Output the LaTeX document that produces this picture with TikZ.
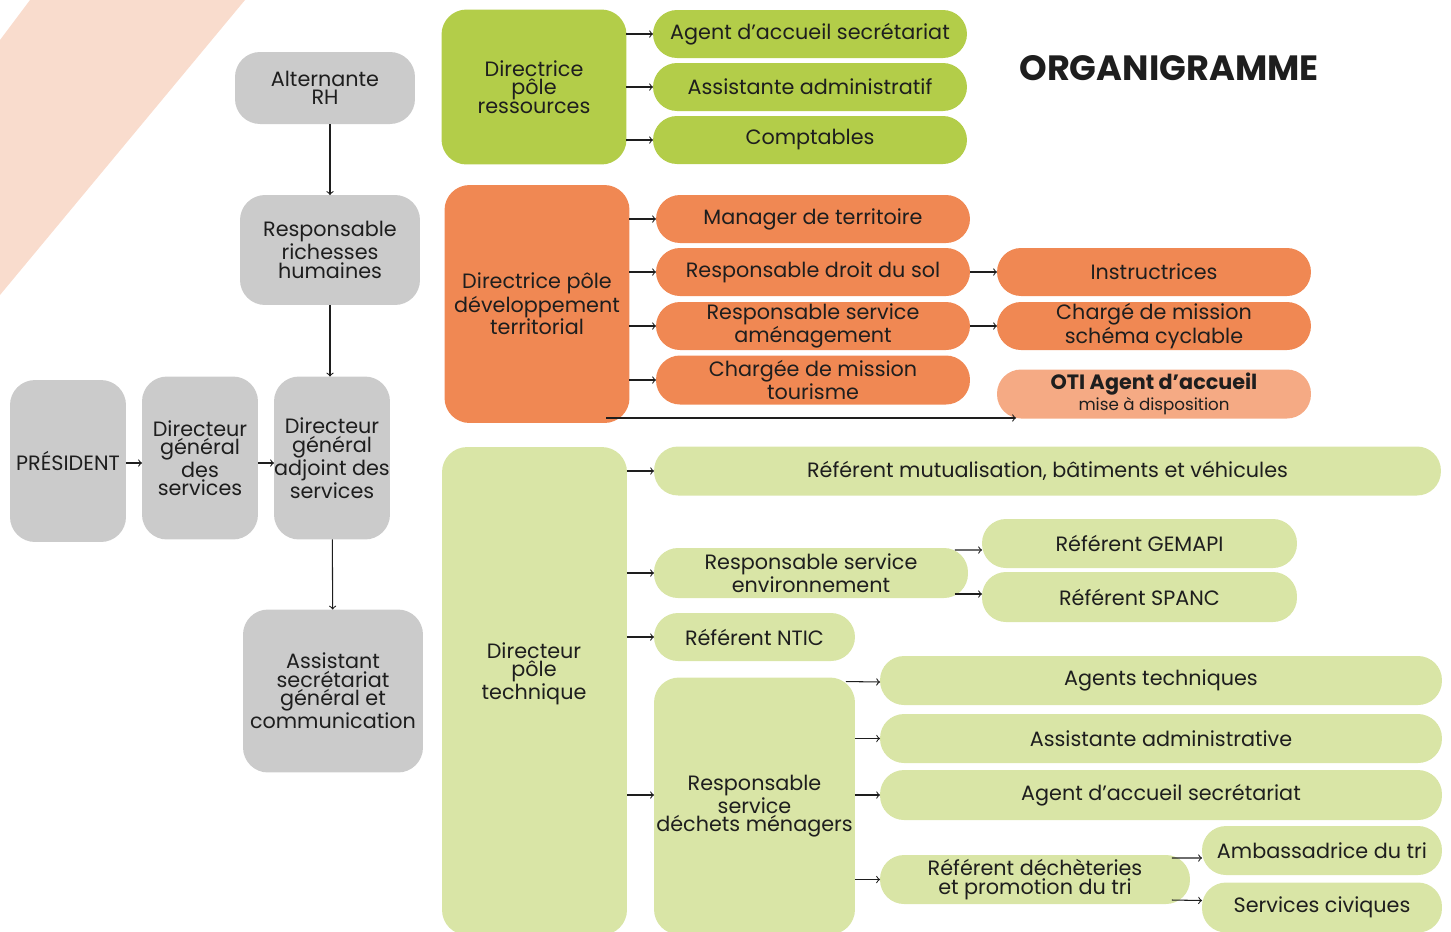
\documentclass[tikz,border=0pt]{standalone}
\usepackage{fontspec}
\setmainfont{Poppins}
\usepackage{tikz}

\definecolor{encre}{HTML}{1E1E1E}
\definecolor{gris}{HTML}{CBCBCB}
\definecolor{vert}{HTML}{B3CD49}
\definecolor{vertclair}{HTML}{D9E5A6}
\definecolor{orange}{HTML}{F08853}
\definecolor{orangeclair}{HTML}{F5AA84}
\definecolor{peche}{HTML}{F9DCCD}

\begin{document}
\begin{tikzpicture}[x=0.02cm, y=-0.02cm,
  every node/.style={align=center, inner sep=0pt, outer sep=0pt, text=encre, font=\fontsize{11.8}{10.5}\selectfont},
  boite/.style={rounded corners=0.5cm},
  pilule/.style={rounded corners=0.48cm},
  lien/.style={->, semithick, encre}]
\useasboundingbox (0,0) rectangle (1451,931);
\fill[peche] (0,40) -- (30,0) -- (245,0) -- (0,295) -- cycle;

\node[font=\fontsize{20}{20}\selectfont\bfseries] (titre) at (1169,68) {ORGANIGRAMME};

\node[boite, fill=gris, minimum width=3.6cm, minimum height=1.44cm] (alt) at (325,88) {Alternante\\RH};
\node[boite, fill=gris, minimum width=3.6cm, minimum height=2.2cm] (rrh) at (330,250) {Responsable\\richesses\\humaines};
\node[boite, fill=gris, minimum width=2.32cm, minimum height=3.24cm] (pres) at (68,461) {PRÉSIDENT};
\node[boite, fill=gris, minimum width=2.32cm, minimum height=3.26cm] (dgs) at (200,458) {Directeur\\général\\des\\services};
\node[boite, fill=gris, minimum width=2.32cm, minimum height=3.26cm] (dga) at (332,458) {Directeur\\général\\adjoint des\\services};
\node[boite, fill=gris, minimum width=3.6cm, minimum height=3.26cm] (asg) at (333,691) {Assistant\\secrétariat\\général et\\communication};

\node[boite, fill=vert, minimum width=3.7cm, minimum height=3.1cm] (dpr) at (534,87) {Directrice\\pôle\\ressources};
\node[pilule, fill=vert, minimum width=6.28cm, minimum height=0.96cm] (r1) at (810,34) {Agent d’accueil secrétariat};
\node[pilule, fill=vert, minimum width=6.28cm, minimum height=0.96cm] (r2) at (810,87) {Assistante administratif};
\node[pilule, fill=vert, minimum width=6.28cm, minimum height=0.96cm] (r3) at (810,140) {Comptables};

\node[boite, fill=orange, minimum width=3.7cm, minimum height=4.76cm] (ddt) at (537,304) {Directrice pôle\\développement\\territorial};
\node[pilule, fill=orange, minimum width=6.28cm, minimum height=0.96cm] (d1) at (813,219) {Manager de territoire};
\node[pilule, fill=orange, minimum width=6.28cm, minimum height=0.96cm] (d2) at (813,272) {Responsable droit du sol};
\node[pilule, fill=orange, minimum width=6.28cm, minimum height=0.96cm] (d3) at (813,326) {Responsable service\\aménagement};
\node[pilule, fill=orange, minimum width=6.28cm, minimum height=0.98cm] (d4) at (813,380) {Chargée de mission\\tourisme};
\node[pilule, fill=orange, minimum width=6.28cm, minimum height=0.96cm] (ins) at (1154,272) {Instructrices};
\node[pilule, fill=orange, minimum width=6.28cm, minimum height=0.96cm] (cyc) at (1154,326) {Chargé de mission\\schéma cyclable};
\node[pilule, fill=orangeclair, minimum width=6.28cm, minimum height=0.98cm] (oti) at (1154,394) {\textbf{OTI Agent d’accueil}\\{\fontsize{9.5}{10.5}\selectfont mise à disposition}};

\node[boite, fill=vertclair, minimum width=3.7cm, minimum height=9.76cm] (dpt) at (534.5,691) {};
\node (dpttexte) at (534,674) {Directeur\\pôle\\technique};
\node[pilule, fill=vertclair, minimum width=15.74cm, minimum height=0.98cm] (mut) at (1047.5,471) {Référent mutualisation, bâtiments et véhicules};
\node[pilule, fill=vertclair, minimum width=6.28cm, minimum height=1cm] (env) at (811,573) {Responsable service\\environnement};
\node[pilule, fill=vertclair, minimum width=6.3cm, minimum height=0.98cm] (gem) at (1139.5,543.5) {Référent GEMAPI};
\node[pilule, fill=vertclair, minimum width=6.3cm, minimum height=1cm] (spanc) at (1139.5,597) {Référent SPANC};
\node[pilule, fill=vertclair, minimum width=4.02cm, minimum height=0.96cm] (ntic) at (754.5,637) {Référent NTIC};
\node[boite, fill=vertclair, minimum width=4.02cm, minimum height=5.14cm] (dech) at (754.5,806) {Responsable\\service\\déchets ménagers};
\node[pilule, fill=vertclair, minimum width=11.24cm, minimum height=0.98cm] (agt) at (1161,680.5) {Agents techniques};
\node[pilule, fill=vertclair, minimum width=11.24cm, minimum height=0.98cm] (adm) at (1161,738.5) {Assistante administrative};
\node[pilule, fill=vertclair, minimum width=11.24cm, minimum height=1cm] (acc) at (1161,795) {Agent d’accueil secrétariat};
\node[pilule, fill=vertclair, minimum width=6.2cm, minimum height=0.98cm] (rdt) at (1035,879.5) {Référent déchèteries\\et promotion du tri};
\node[pilule, fill=vertclair, minimum width=4.8cm, minimum height=0.98cm] (amb) at (1322,850.5) {Ambassadrice du tri};
\node[pilule, fill=vertclair, minimum width=4.8cm, minimum height=1cm] (civ) at (1322,907.5) {Services civiques};

\draw[lien] (alt.south -| rrh.north) -- (rrh.north);
\draw[lien] (rrh.south) -- (rrh.south |- dga.north);
\draw[lien] (dga) -- (asg);
\draw[lien] ([shift={(0,2)}]pres.east) -- ([shift={(0,5)}]dgs.west);
\draw[lien] ([shift={(0,5)}]dgs.east) -- ([shift={(0,5)}]dga.west);

\draw[lien] (dpr.east |- r1.west) -- (r1.west);
\draw[lien] (dpr.east |- r2.west) -- (r2.west);
\draw[lien] (dpr.east |- r3.west) -- (r3.west);

\draw[lien] (ddt.east |- d1.west) -- (d1.west);
\draw[lien] (ddt.east |- d2.west) -- (d2.west);
\draw[lien] (ddt.east |- d3.west) -- (d3.west);
\draw[lien] (ddt.east |- d4.west) -- (d4.west);
\draw[lien] (d2) -- (ins);
\draw[lien] (d3) -- (cyc);
\coordinate (otidep) at ([shift={(-23,-5)}]ddt.south east);
\coordinate (otipied) at ([shift={(19,-1)}]oti.south west);
\draw[lien] (otidep) -- (otidep -| otipied);

\draw[lien] (dpt.east |- mut.west) -- (mut.west);
\draw[lien] (dpt.east |- env.west) -- (env.west);
\draw[lien] (dpt.east |- ntic.west) -- (ntic.west);
\draw[lien] ([shift={(-27,-11)}]dech.west) -- ([shift={(0,-11)}]dech.west);
\draw[lien] ([shift={(-13,-23)}]env.east) -- ([shift={(0,6.5)}]gem.west);
\draw[lien] ([shift={(-13,21)}]env.east) -- ([shift={(0,-3)}]spanc.west);
\draw[lien] ([shift={(-9,4)}]dech.north east) -- ([shift={(0,1.5)}]agt.west);
\draw[lien] (dech.east |- adm.west) -- (adm.west);
\draw[lien] (dech.east |- acc.west) -- (acc.west);
\draw[lien] (dech.east |- rdt.west) -- (rdt.west);
\draw[lien] ([shift={(-18,-21.5)}]rdt.east) -- ([shift={(0,7.5)}]amb.west);
\draw[lien] ([shift={(-18,20.5)}]rdt.east) -- ([shift={(0,-7)}]civ.west);
\end{tikzpicture}
\end{document}
